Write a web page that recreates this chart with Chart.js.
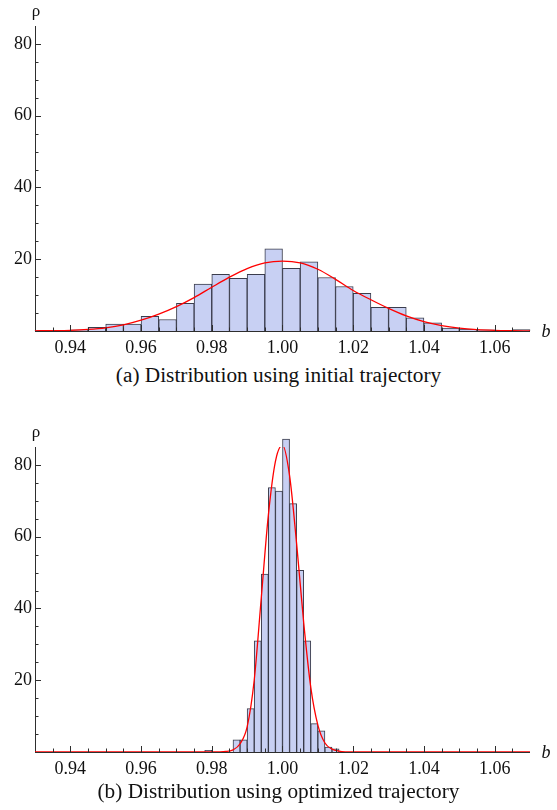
<!DOCTYPE html>
<html lang="en">
<head>
  <meta charset="UTF-8">
  <title>Distribution of b</title>
  <script src="https://cdn.jsdelivr.net/npm/chart.js"></script>
  <style>
    body {
      margin: 0;
      background: #fff;
      width: 557px;
      height: 810px;
      position: relative;
      overflow: hidden;
      font-family: "Liberation Serif", "DejaVu Serif", serif;
    }

    canvas {
      position: absolute;
      left: 0;
    }

    #chartA { top: 0; }
    #chartB { top: 421px; }

    .caption {
      position: absolute;
      left: 0;
      width: 557px;
      text-align: center;
      font-size: 21.3px;
      line-height: 1;
      color: #111;
    }

    #capA { top: 365px; }
    #capB { top: 781px; }
  </style>
</head>
<body>
  <canvas id="chartA" width="557" height="360"></canvas>
  <div class="caption" id="capA">(a) Distribution using initial trajectory</div>
  <canvas id="chartB" width="557" height="360"></canvas>
  <div class="caption" id="capB">(b) Distribution using optimized trajectory</div>

  <script>
    // axis ticks, shared by both panels
    const xTicks = [0.94, 0.96, 0.98, 1.00, 1.02, 1.04, 1.06];
    const xTickLabels = ['0.94', '0.96', '0.98', '1.00', '1.02', '1.04', '1.06'];
    const yTicks = [20, 40, 60, 80];

    // (a) initial trajectory: histogram, bins of width 0.005
    const binStartA = [0.930, 0.935, 0.940, 0.945, 0.950, 0.955, 0.960, 0.965, 0.970, 0.975,
                       0.980, 0.985, 0.990, 0.995, 1.000, 1.005, 1.010, 1.015, 1.020, 1.025,
                       1.030, 1.035, 1.040, 1.045, 1.050, 1.055, 1.060, 1.065];
    const densityA = [0.2, 0.2, 0.3, 1.0, 1.9, 1.9, 4.1, 3.2, 7.7, 13.1,
                      15.8, 14.7, 15.8, 22.9, 17.5, 19.3, 14.9, 12.4, 10.5, 6.6,
                      6.6, 3.7, 2.3, 0.8, 0.45, 0.3, 0.1, 0.4];

    // (a) fitted curve
    const fitXA = [0.930, 0.935, 0.940, 0.945, 0.950, 0.955, 0.960, 0.965, 0.970, 0.975,
                   0.980, 0.985, 0.990, 0.995, 1.000, 1.005, 1.010, 1.015, 1.020, 1.025,
                   1.030, 1.035, 1.040, 1.045, 1.050, 1.055, 1.060, 1.065, 1.070];
    const fitYA = [0.05, 0.1, 0.2, 0.45, 0.9, 1.7, 3.0, 4.7, 6.8, 9.3,
                   12.2, 15.0, 17.4, 19.0, 19.5, 19.0, 17.2, 14.4, 11.3, 8.7,
                   6.3, 4.2, 2.6, 1.5, 0.8, 0.4, 0.2, 0.1, 0.04];

    // (b) optimized trajectory: histogram, bins of width 0.002
    const binStartB = [0.978, 0.986, 0.988, 0.990, 0.992, 0.994, 0.996, 0.998, 1.000, 1.002,
                       1.004, 1.006, 1.008, 1.010, 1.012, 1.014];
    const densityB = [0.5, 3.4, 3.4, 12.1, 31.0, 49.6, 73.7, 72.7, 87.2, 69.2,
                      50.6, 31.0, 7.9, 5.9, 1.4, 0.9];

    // (b) fitted curve
    const fitXB = [0.930, 0.980, 0.984, 0.986, 0.988, 0.990, 0.992, 0.994, 0.996, 0.998,
                   1.000, 1.002, 1.004, 1.006, 1.008, 1.010, 1.012, 1.014, 1.016, 1.020, 1.070];
    const fitYB = [0, 0, 0.15, 0.6, 2.3, 7.0, 20, 43, 66, 81,
                   85.5, 77, 58, 36, 18, 7.5, 2.5, 0.8, 0.25, 0, 0];

    const X_MIN = 0.93, X_MAX = 1.07, Y_MAX = 85;
    const AXIS = '#2e2e2e';
    const SERIF = '"Liberation Serif", "DejaVu Serif", serif';

    // axis lines, inward tick marks and the rho / b labels
    const frame = {
      id: 'frame',
      beforeDatasetsDraw(chart) {
        const { ctx, chartArea: a } = chart;
        ctx.save();
        ctx.strokeStyle = AXIS;
        ctx.lineWidth = 1;
        ctx.beginPath();
        ctx.moveTo(a.left + 0.5, a.top);
        ctx.lineTo(a.left + 0.5, a.bottom + 1);
        ctx.moveTo(a.left, a.bottom + 0.5);
        ctx.lineTo(a.right, a.bottom + 0.5);
        ctx.stroke();
        ctx.restore();
      },
      afterDatasetsDraw(chart) {
        const { ctx, chartArea: a, scales } = chart;
        const xs = scales.x, ys = scales.y;
        ctx.save();
        ctx.strokeStyle = AXIS;
        ctx.lineWidth = 1;
        ctx.beginPath();
        const nx = Math.round((X_MAX - X_MIN) / 0.005);
        for (let i = 1; i < nx; i++) {
          const v = X_MIN + i * 0.005;
          const major = xTicks.some(t => Math.abs(t - v) < 1e-6);
          const px = Math.round(xs.getPixelForValue(v)) + 0.5;
          ctx.moveTo(px, a.bottom);
          ctx.lineTo(px, a.bottom - (major ? 6 : 3.5));
        }
        for (let v = 5; v < Y_MAX; v += 5) {
          const major = yTicks.includes(v);
          const py = Math.round(ys.getPixelForValue(v)) + 0.5;
          ctx.moveTo(a.left, py);
          ctx.lineTo(a.left + (major ? 6 : 3.5), py);
        }
        ctx.stroke();

        ctx.fillStyle = '#111';
        ctx.textAlign = 'center';
        ctx.textBaseline = 'middle';
        ctx.font = '17px ' + SERIF;
        ctx.fillText('\u03C1', a.left + 1, a.top - 14);
        ctx.font = 'italic 18px ' + SERIF;
        ctx.fillText('b', a.right + 16, a.bottom + 1);
        ctx.restore();
      }
    };

    function makeChart(id, binStart, density, binWidth, fitX, fitY) {
      const bars = binStart.map((s, i) => ({ x: s + binWidth / 2, y: density[i] }));
      const curve = fitX.map((x, i) => ({ x: x, y: fitY[i] }));

      return new Chart(document.getElementById(id), {
        type: 'bar',
        data: {
          datasets: [
            {
              type: 'line',
              data: curve,
              borderColor: '#ff0000',
              borderWidth: 1.3,
              pointRadius: 0,
              cubicInterpolationMode: 'monotone',
              order: 0
            },
            {
              type: 'bar',
              data: bars,
              backgroundColor: 'rgb(200, 208, 243)',
              borderColor: 'rgba(38, 40, 56, 0.9)',
              borderWidth: 1,
              barPercentage: 1,
              categoryPercentage: 1,
              clip: false,
              order: 1
            }
          ]
        },
        options: {
          responsive: false,
          animation: false,
          layout: {
            autoPadding: false,
            padding: { left: 0, right: 27, top: 26, bottom: 0 }
          },
          plugins: {
            legend: { display: false },
            tooltip: { enabled: false }
          },
          scales: {
            x: {
              type: 'linear',
              min: X_MIN,
              max: X_MAX,
              offset: false,
              grid: { display: false, drawTicks: false, offset: false },
              border: { display: false },
              afterBuildTicks: s => { s.ticks = xTicks.map(v => ({ value: v })); },
              afterFit: s => { s.height = 29; },
              ticks: {
                padding: 6,
                color: '#111',
                font: { family: SERIF, size: 18 },
                callback: (v, i) => xTickLabels[i]
              }
            },
            y: {
              min: 0,
              max: Y_MAX,
              grid: { display: false, drawTicks: false },
              border: { display: false },
              afterBuildTicks: s => { s.ticks = yTicks.map(v => ({ value: v })); },
              afterFit: s => { s.width = 35; },
              ticks: {
                padding: 3,
                color: '#111',
                font: { family: SERIF, size: 18 },
                callback: v => String(v)
              }
            }
          }
        },
        plugins: [frame]
      });
    }

    makeChart('chartA', binStartA, densityA, 0.005, fitXA, fitYA);
    makeChart('chartB', binStartB, densityB, 0.002, fitXB, fitYB);
  </script>
</body>
</html>
